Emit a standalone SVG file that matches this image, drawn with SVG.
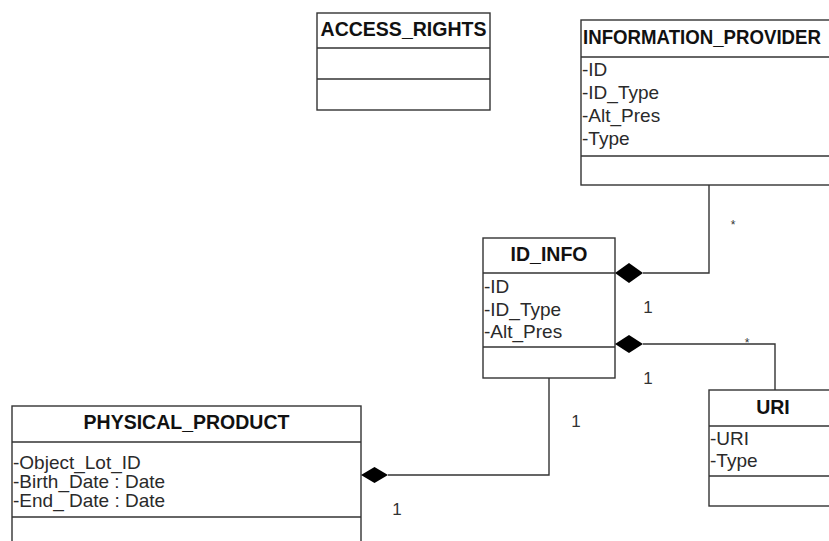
<svg xmlns="http://www.w3.org/2000/svg" width="829" height="541" viewBox="0 0 829 541">
<style>
.box{fill:#fff;stroke:#333;stroke-width:1.4}
.div{stroke:#333;stroke-width:1.4}
.title{font-family:"Liberation Sans",Arial,sans-serif;font-size:19.5px;font-weight:bold;fill:#111}
.attr{font-family:"Liberation Sans",Arial,sans-serif;font-size:19px;fill:#2a2a2a}
.mult{font-family:"Liberation Sans",Arial,sans-serif;font-size:17px;fill:#333}
.star{font-family:"Liberation Sans",Arial,sans-serif;font-size:12px;fill:#333}
.conn{fill:none;stroke:#333;stroke-width:1.4}
.dia{fill:#000;stroke:none}
</style>
<rect width="829" height="541" fill="#fff"/>
<g id="access_rights">
<rect class="box" x="317" y="13" width="173" height="97"/>
<line class="div" x1="317" y1="48" x2="490" y2="48"/>
<line class="div" x1="317" y1="79" x2="490" y2="79"/>
<text class="title" x="403.5" y="36" text-anchor="middle">ACCESS_RIGHTS</text>
</g>
<g id="information_provider">
<rect class="box" x="581" y="20" width="260" height="165"/>
<line class="div" x1="581" y1="57" x2="841" y2="57"/>
<line class="div" x1="581" y1="156" x2="841" y2="156"/>
<text class="title" x="583" y="44" textLength="238" lengthAdjust="spacingAndGlyphs">INFORMATION_PROVIDER</text>
<text class="attr" x="582" y="76">-ID</text>
<text class="attr" x="582" y="99">-ID_Type</text>
<text class="attr" x="582" y="122">-Alt_Pres</text>
<text class="attr" x="582" y="145">-Type</text>
</g>
<g id="id_info">
<rect class="box" x="483" y="238" width="132" height="140"/>
<line class="div" x1="483" y1="273" x2="615" y2="273"/>
<line class="div" x1="483" y1="347" x2="615" y2="347"/>
<text class="title" x="549" y="261" text-anchor="middle">ID_INFO</text>
<text class="attr" x="484" y="293">-ID</text>
<text class="attr" x="484" y="315.5">-ID_Type</text>
<text class="attr" x="484" y="338">-Alt_Pres</text>
</g>
<g id="uri">
<rect class="box" x="709" y="390" width="130" height="116"/>
<line class="div" x1="709" y1="426" x2="839" y2="426"/>
<line class="div" x1="709" y1="476" x2="839" y2="476"/>
<text class="title" x="773" y="414" text-anchor="middle">URI</text>
<text class="attr" x="710" y="445">-URI</text>
<text class="attr" x="710" y="467">-Type</text>
</g>
<g id="physical_product">
<rect class="box" x="12" y="406" width="349" height="150"/>
<line class="div" x1="12" y1="442" x2="361" y2="442"/>
<line class="div" x1="12" y1="517" x2="361" y2="517"/>
<text class="title" x="186.5" y="429" text-anchor="middle">PHYSICAL_PRODUCT</text>
<text class="attr" x="13" y="469">-Object_Lot_ID</text>
<text class="attr" x="13" y="488">-Birth_Date : Date</text>
<text class="attr" x="13" y="507">-End_ Date : Date</text>
</g>
<g id="connectors">
<polyline class="conn" points="643,273 709,273 709,185"/>
<polygon class="dia" points="615,273 629,263 643,273 629,283"/>
<polyline class="conn" points="643,344 775,344 775,390"/>
<polygon class="dia" points="615,344 629,335 643,344 629,353"/>
<polyline class="conn" points="388,475 549,475 549,378"/>
<polygon class="dia" points="361,475 374.5,467 388,475 374.5,483"/>
<text class="star" x="733" y="229" text-anchor="middle">*</text>
<text class="mult" x="648" y="313" text-anchor="middle">1</text>
<text class="star" x="747" y="347" text-anchor="middle">*</text>
<text class="mult" x="648" y="384" text-anchor="middle">1</text>
<text class="mult" x="576" y="427" text-anchor="middle">1</text>
<text class="mult" x="397" y="515" text-anchor="middle">1</text>
</g>
</svg>
